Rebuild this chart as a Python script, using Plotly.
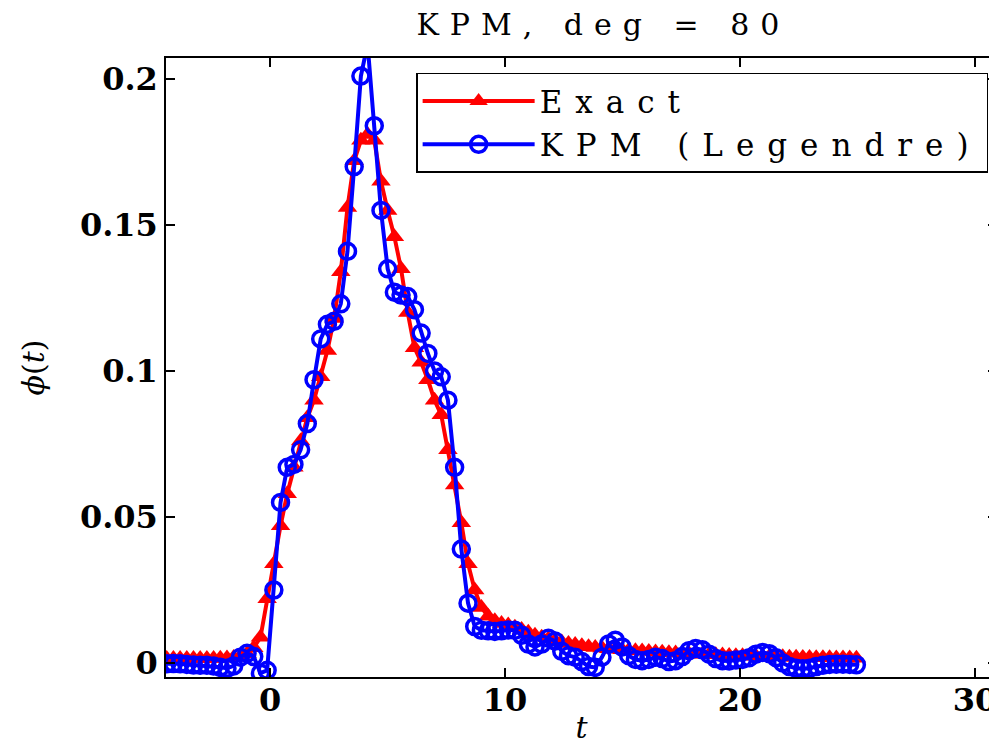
import plotly.graph_objects as go

# sample times (t)
t = [-4.400, -4.115, -3.830, -3.545, -3.260, -2.975, -2.690, -2.405, -2.120, -1.835,
     -1.550, -1.265, -0.980, -0.695, -0.410, -0.125, 0.160, 0.445, 0.730, 1.015,
     1.300, 1.585, 1.870, 2.155, 2.440, 2.725, 3.010, 3.295, 3.580, 3.865,
     4.150, 4.435, 4.720, 5.005, 5.290, 5.575, 5.860, 6.145, 6.430, 6.715,
     7.000, 7.285, 7.570, 7.855, 8.140, 8.425, 8.710, 8.995, 9.280, 9.565,
     9.850, 10.135, 10.420, 10.705, 10.990, 11.275, 11.560, 11.845, 12.130, 12.415,
     12.700, 12.985, 13.270, 13.555, 13.840, 14.125, 14.410, 14.695, 14.980, 15.265,
     15.550, 15.835, 16.120, 16.405, 16.690, 16.975, 17.260, 17.545, 17.830, 18.115,
     18.400, 18.685, 18.970, 19.255, 19.540, 19.825, 20.110, 20.395, 20.680, 20.965,
     21.250, 21.535, 21.820, 22.105, 22.390, 22.675, 22.960, 23.245, 23.530, 23.815,
     24.100, 24.385, 24.670, 24.955]

exact = [0.0015, 0.0015, 0.0015, 0.0015, 0.0015, 0.0015, 0.0015, 0.0015, 0.0016, 0.0017,
         0.0019, 0.0023, 0.0032, 0.0052, 0.0088, 0.0220, 0.0340, 0.0470, 0.0580, 0.0670,
         0.0760, 0.0840, 0.0900, 0.0980, 0.1070, 0.1180, 0.1340, 0.1560, 0.1720, 0.1790,
         0.1810, 0.1790, 0.1650, 0.1550, 0.1460, 0.1350, 0.1200, 0.1080, 0.1030, 0.0970,
         0.0900, 0.0850, 0.0730, 0.0610, 0.0480, 0.0340, 0.0250, 0.0190, 0.0160, 0.0145,
         0.0135, 0.0130, 0.0122, 0.0115, 0.0105, 0.0095, 0.0088, 0.0082, 0.0077, 0.0072,
         0.0067, 0.0063, 0.0059, 0.0056, 0.0053, 0.0051, 0.0049, 0.0047, 0.0045, 0.0044,
         0.0042, 0.0041, 0.0039, 0.0038, 0.0037, 0.0035, 0.0034, 0.0033, 0.0032, 0.0031,
         0.0030, 0.0029, 0.0028, 0.0027, 0.0026, 0.0025, 0.0025, 0.0024, 0.0023, 0.0023,
         0.0022, 0.0021, 0.0021, 0.0020, 0.0020, 0.0019, 0.0019, 0.0018, 0.0018, 0.0018,
         0.0017, 0.0017, 0.0017, 0.0016]

kpm = [-0.0003, -0.0002, -0.0003, -0.0005, -0.0007, -0.0008, -0.0008, -0.0010, -0.0015, -0.0018,
       -0.0010, 0.0020, 0.0033, 0.0022, -0.0035, -0.0025, 0.0250, 0.0550, 0.0670, 0.0680,
       0.0730, 0.0820, 0.0970, 0.1110, 0.1160, 0.1170, 0.1230, 0.1410, 0.1700, 0.2010,
       0.2120, 0.1840, 0.1550, 0.1350, 0.1270, 0.1260, 0.1255, 0.1210, 0.1130, 0.1060,
       0.1000, 0.0980, 0.0900, 0.0670, 0.0390, 0.0205, 0.0125, 0.0112, 0.0110, 0.0108,
       0.0110, 0.0113, 0.0112, 0.0095, 0.0065, 0.0055, 0.0065, 0.0085, 0.0075, 0.0040,
       0.0025, 0.0020, 0.0005, -0.0012, -0.0015, 0.0020, 0.0065, 0.0078, 0.0055, 0.0025,
       0.0012, 0.0008, 0.0012, 0.0020, 0.0015, 0.0005, 0.0008, 0.0022, 0.0042, 0.0050,
       0.0045, 0.0030, 0.0015, 0.0008, 0.0007, 0.0010, 0.0012, 0.0018, 0.0030, 0.0036,
       0.0032, 0.0018, 0.0000, -0.0012, -0.0018, -0.0020, -0.0018, -0.0012, -0.0008, -0.0005,
       -0.0004, -0.0004, -0.0005, -0.0006]

x_ticks = [0, 10, 20, 30]
x_tick_labels = ["0", "10", "20", "30"]
y_ticks = [0, 0.05, 0.1, 0.15, 0.2]
y_tick_labels = ["0", "0.05", "0.1", "0.15", "0.2"]

SERIF = "DejaVu Serif"


def spaced(s, px):
    return '<span style="letter-spacing:%dpx">%s</span>' % (px, s)


fig = go.Figure()
fig.add_trace(go.Scatter(
    x=t, y=exact, mode="lines+markers", name=spaced("Exact", 13),
    line=dict(color="#ff0000", width=4),
    marker=dict(symbol="triangle-up", size=17, color="#ff0000"),
))
fig.add_trace(go.Scatter(
    x=t, y=kpm, mode="lines+markers", name=spaced("KPM (Legendre)", 13),
    line=dict(color="#0000ff", width=4),
    marker=dict(symbol="circle-open", size=16, color="#0000ff",
                line=dict(color="#0000ff", width=3.5)),
))

axis_common = dict(
    showline=True, linecolor="black", linewidth=1.5, mirror="ticks",
    ticks="inside", ticklen=9, tickwidth=1.5, tickcolor="black",
    showgrid=False, zeroline=False, automargin=False,
    ticklabeloverflow="allow",
    tickfont=dict(family=SERIF, size=32, color="black", weight="bold"),
)

fig.update_xaxes(
    range=[-4.43, 30.94], tickvals=x_ticks, ticktext=x_tick_labels,
    ticklabelstandoff=-6,
    title=dict(text="<i>t</i>", font=dict(family=SERIF, size=30, color="black"), standoff=11),
    **axis_common,
)
fig.update_yaxes(
    range=[-0.0048, 0.2072], tickvals=y_ticks, ticktext=y_tick_labels,
    title=dict(text="<i>ϕ</i>(<i>t</i>)", font=dict(family=SERIF, size=30, color="black"), standoff=26),
    **axis_common,
)

fig.update_layout(
    width=989, height=737,
    margin=dict(l=158, r=0, t=50, b=68, autoexpand=False),
    paper_bgcolor="white", plot_bgcolor="white",
    title=dict(text=spaced("KPM, deg = 80", 11),
               font=dict(family=SERIF, size=30, color="black"),
               x=0.602, xanchor="center", xref="container",
               y=0.977, yanchor="middle", yref="container"),
    legend=dict(
        x=0.301, y=0.976, xanchor="left", yanchor="top",
        bgcolor="white", bordercolor="black", borderwidth=1.5,
        font=dict(family=SERIF, size=31, color="black"),
        itemwidth=112, tracegroupgap=0,
    ),
    showlegend=True,
)

fig.write_html("out.html")
